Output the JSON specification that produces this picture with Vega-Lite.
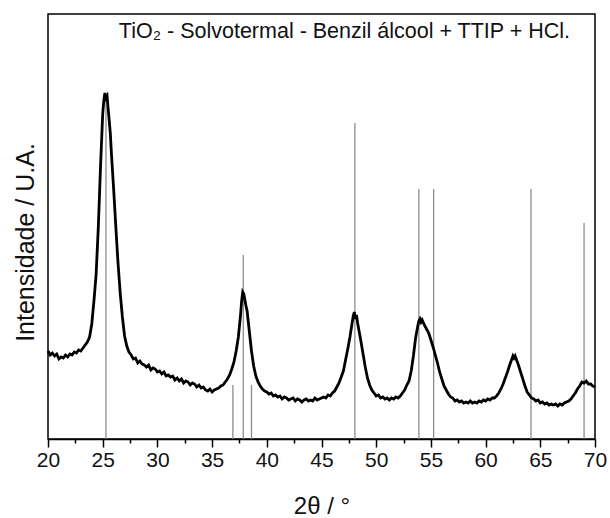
{
  "$schema": "https://vega.github.io/schema/vega-lite/v6.json",
  "width": 547,
  "height": 425,
  "autosize": "none",
  "padding": {"left": 48, "top": 14, "right": 15, "bottom": 79},
  "background": "white",
  "config": {
    "view": {"stroke": "black", "strokeWidth": 1.5},
    "font": "Liberation Sans",
    "axis": {"grid": false}
  },
  "datasets": {
    "xrd": [
      {"t":20.0,"i":88},{"t":20.2,"i":84},{"t":20.4,"i":86},{"t":20.6,"i":83},{"t":20.8,"i":85},
      {"t":21.0,"i":80},{"t":21.2,"i":82},{"t":21.4,"i":81},{"t":21.6,"i":84},{"t":21.8,"i":82},
      {"t":22.0,"i":85},{"t":22.2,"i":84},{"t":22.4,"i":87},{"t":22.6,"i":86},{"t":22.8,"i":89},
      {"t":23.0,"i":88},{"t":23.2,"i":91},{"t":23.4,"i":94},{"t":23.6,"i":97},{"t":23.8,"i":102},
      {"t":24.0,"i":115},{"t":24.2,"i":138},{"t":24.4,"i":165},{"t":24.6,"i":212},{"t":24.8,"i":272},
      {"t":25.0,"i":325},{"t":25.1,"i":338},{"t":25.2,"i":346},{"t":25.3,"i":341},{"t":25.4,"i":343},
      {"t":25.5,"i":330},{"t":25.6,"i":318},{"t":25.7,"i":305},{"t":25.8,"i":285},{"t":26.0,"i":250},
      {"t":26.2,"i":212},{"t":26.4,"i":176},{"t":26.6,"i":146},{"t":26.8,"i":122},{"t":27.0,"i":103},
      {"t":27.2,"i":93},{"t":27.4,"i":87},{"t":27.6,"i":84},{"t":27.8,"i":80},{"t":28.0,"i":81},
      {"t":28.2,"i":76},{"t":28.4,"i":78},{"t":28.6,"i":75},{"t":28.8,"i":74},{"t":29.0,"i":72},
      {"t":29.2,"i":74},{"t":29.4,"i":69},{"t":29.6,"i":71},{"t":29.8,"i":70},{"t":30.0,"i":67},
      {"t":30.2,"i":68},{"t":30.4,"i":65},{"t":30.6,"i":67},{"t":30.8,"i":63},{"t":31.0,"i":64},
      {"t":31.2,"i":62},{"t":31.4,"i":63},{"t":31.6,"i":59},{"t":31.8,"i":61},{"t":32.0,"i":58},
      {"t":32.2,"i":60},{"t":32.4,"i":56},{"t":32.6,"i":58},{"t":32.8,"i":57},{"t":33.0,"i":54},
      {"t":33.2,"i":56},{"t":33.4,"i":55},{"t":33.6,"i":52},{"t":33.8,"i":54},{"t":34.0,"i":51},
      {"t":34.2,"i":52},{"t":34.4,"i":49},{"t":34.6,"i":48},{"t":34.8,"i":50},{"t":35.0,"i":47},
      {"t":35.2,"i":49},{"t":35.4,"i":50},{"t":35.6,"i":51},{"t":35.8,"i":53},{"t":36.0,"i":54},
      {"t":36.2,"i":57},{"t":36.4,"i":60},{"t":36.6,"i":64},{"t":36.8,"i":70},{"t":37.0,"i":77},
      {"t":37.2,"i":88},{"t":37.4,"i":102},{"t":37.6,"i":124},{"t":37.7,"i":138},{"t":37.8,"i":147},
      {"t":37.9,"i":145},{"t":38.0,"i":139},{"t":38.1,"i":133},{"t":38.2,"i":128},{"t":38.4,"i":108},
      {"t":38.6,"i":88},{"t":38.8,"i":73},{"t":39.0,"i":63},{"t":39.2,"i":57},{"t":39.4,"i":53},
      {"t":39.6,"i":50},{"t":39.8,"i":48},{"t":40.0,"i":47},{"t":40.2,"i":45},{"t":40.4,"i":46},
      {"t":40.6,"i":43},{"t":40.8,"i":44},{"t":41.0,"i":42},{"t":41.2,"i":43},{"t":41.4,"i":40},
      {"t":41.6,"i":42},{"t":41.8,"i":41},{"t":42.0,"i":39},{"t":42.2,"i":40},{"t":42.4,"i":41},
      {"t":42.6,"i":38},{"t":42.8,"i":40},{"t":43.0,"i":39},{"t":43.2,"i":37},{"t":43.4,"i":39},
      {"t":43.6,"i":40},{"t":43.8,"i":38},{"t":44.0,"i":39},{"t":44.2,"i":38},{"t":44.4,"i":41},
      {"t":44.6,"i":39},{"t":44.8,"i":40},{"t":45.0,"i":41},{"t":45.2,"i":42},{"t":45.4,"i":41},
      {"t":45.6,"i":44},{"t":45.8,"i":43},{"t":46.0,"i":46},{"t":46.2,"i":48},{"t":46.4,"i":52},
      {"t":46.6,"i":56},{"t":46.8,"i":62},{"t":47.0,"i":68},{"t":47.2,"i":79},{"t":47.4,"i":90},
      {"t":47.6,"i":102},{"t":47.8,"i":116},{"t":47.9,"i":123},{"t":48.0,"i":127},{"t":48.1,"i":120},
      {"t":48.2,"i":124},{"t":48.3,"i":116},{"t":48.4,"i":110},{"t":48.6,"i":98},{"t":48.8,"i":85},
      {"t":49.0,"i":72},{"t":49.2,"i":61},{"t":49.4,"i":54},{"t":49.6,"i":49},{"t":49.8,"i":46},
      {"t":50.0,"i":43},{"t":50.2,"i":44},{"t":50.4,"i":41},{"t":50.6,"i":42},{"t":50.8,"i":40},
      {"t":51.0,"i":41},{"t":51.2,"i":39},{"t":51.4,"i":41},{"t":51.6,"i":40},{"t":51.8,"i":42},
      {"t":52.0,"i":41},{"t":52.2,"i":43},{"t":52.4,"i":46},{"t":52.6,"i":49},{"t":52.8,"i":54},
      {"t":53.0,"i":58},{"t":53.2,"i":68},{"t":53.4,"i":83},{"t":53.6,"i":101},{"t":53.8,"i":113},
      {"t":53.9,"i":118},{"t":54.0,"i":120},{"t":54.1,"i":117},{"t":54.2,"i":119},{"t":54.4,"i":114},
      {"t":54.6,"i":110},{"t":54.8,"i":106},{"t":55.0,"i":99},{"t":55.2,"i":92},{"t":55.4,"i":84},
      {"t":55.6,"i":76},{"t":55.8,"i":67},{"t":56.0,"i":60},{"t":56.2,"i":53},{"t":56.4,"i":49},
      {"t":56.6,"i":45},{"t":56.8,"i":42},{"t":57.0,"i":41},{"t":57.2,"i":38},{"t":57.4,"i":39},
      {"t":57.6,"i":37},{"t":57.8,"i":38},{"t":58.0,"i":36},{"t":58.2,"i":37},{"t":58.4,"i":36},
      {"t":58.6,"i":38},{"t":58.8,"i":36},{"t":59.0,"i":37},{"t":59.2,"i":36},{"t":59.4,"i":38},
      {"t":59.6,"i":37},{"t":59.8,"i":39},{"t":60.0,"i":38},{"t":60.2,"i":40},{"t":60.4,"i":39},
      {"t":60.6,"i":41},{"t":60.8,"i":41},{"t":61.0,"i":43},{"t":61.2,"i":46},{"t":61.4,"i":50},
      {"t":61.6,"i":55},{"t":61.8,"i":61},{"t":62.0,"i":67},{"t":62.2,"i":74},{"t":62.4,"i":80},
      {"t":62.5,"i":83},{"t":62.6,"i":81},{"t":62.7,"i":83},{"t":62.8,"i":80},{"t":63.0,"i":74},
      {"t":63.2,"i":67},{"t":63.4,"i":60},{"t":63.6,"i":53},{"t":63.8,"i":47},{"t":64.0,"i":44},
      {"t":64.2,"i":41},{"t":64.4,"i":40},{"t":64.6,"i":38},{"t":64.8,"i":39},{"t":65.0,"i":36},
      {"t":65.2,"i":37},{"t":65.4,"i":35},{"t":65.6,"i":36},{"t":65.8,"i":34},{"t":66.0,"i":35},
      {"t":66.2,"i":34},{"t":66.4,"i":35},{"t":66.6,"i":33},{"t":66.8,"i":35},{"t":67.0,"i":34},
      {"t":67.2,"i":36},{"t":67.4,"i":37},{"t":67.6,"i":38},{"t":67.8,"i":40},{"t":68.0,"i":43},
      {"t":68.2,"i":46},{"t":68.4,"i":50},{"t":68.6,"i":53},{"t":68.8,"i":57},{"t":69.0,"i":56},
      {"t":69.2,"i":58},{"t":69.4,"i":55},{"t":69.6,"i":55},{"t":69.8,"i":53},{"t":70.0,"i":52}
    ],
    "sticks": [
      {"t":25.3,"h":340},{"t":36.9,"h":54},{"t":37.85,"h":184},{"t":38.6,"h":54},
      {"t":48.05,"h":316},{"t":53.9,"h":250},{"t":55.25,"h":250},{"t":64.15,"h":250},{"t":69.0,"h":216}
    ],
    "label": [
      {"t":47.1,"i":401,"txt":"TiO₂ - Solvotermal - Benzil álcool + TTIP + HCl."}
    ]
  },
  "resolve": {"axis": {"x": "independent"}},
  "layer": [
    {
      "data": {"name": "sticks"},
      "mark": {"type": "rule", "color": "#8c8c8c", "strokeWidth": 1.3},
      "encoding": {
        "x": {"field": "t", "type": "quantitative", "scale": {"domain": [20, 70], "nice": false, "zero": false},
              "axis": {"orient": "bottom", "values": [22.5, 27.5, 32.5, 37.5, 42.5, 47.5, 52.5, 57.5, 62.5, 67.5], "labels": false, "title": null, "domain": false, "tickSize": 4, "tickColor": "black", "tickWidth": 1.5}},
        "y": {"field": "h", "type": "quantitative", "scale": {"domain": [0, 425], "nice": false},
              "axis": {"title": "Intensidade / U.A.", "labels": false, "ticks": false, "domain": false, "titleFontSize": 25, "titleFontWeight": "normal", "titleColor": "#111", "titlePadding": 10, "titleY": 228}},
        "y2": {"datum": 0}
      }
    },
    {
      "data": {"name": "xrd"},
      "mark": {"type": "line", "color": "black", "strokeWidth": 2.8},
      "encoding": {
        "x": {"field": "t", "type": "quantitative", "scale": {"domain": [20, 70], "nice": false, "zero": false},
              "axis": {"orient": "bottom", "values": [20, 25, 30, 35, 40, 45, 50, 55, 60, 65, 70], "format": "d", "domain": true, "domainColor": "black", "domainWidth": 1.5, "tickSize": 8, "tickColor": "black", "tickWidth": 1.5, "labelFontSize": 21, "labelColor": "#111", "labelPadding": 2, "labelFlush": false, "labelOverlap": false, "title": "2θ / °", "titleFontSize": 24, "titleFontWeight": "normal", "titleColor": "#111", "titleBaseline": "alphabetic", "titleY": 74}},
        "y": {"field": "i", "type": "quantitative",
              "axis": {"title": "Intensidade / U.A.", "labels": false, "ticks": false, "domain": false, "titleFontSize": 25, "titleFontWeight": "normal", "titleColor": "#111", "titlePadding": 10, "titleY": 228}}
      }
    },
    {
      "data": {"name": "label"},
      "mark": {"type": "text", "fontSize": 21.5, "color": "#111", "align": "center", "baseline": "alphabetic"},
      "encoding": {
        "x": {"field": "t", "type": "quantitative", "axis": null},
        "y": {"field": "i", "type": "quantitative"},
        "text": {"field": "txt"}
      }
    }
  ]
}
